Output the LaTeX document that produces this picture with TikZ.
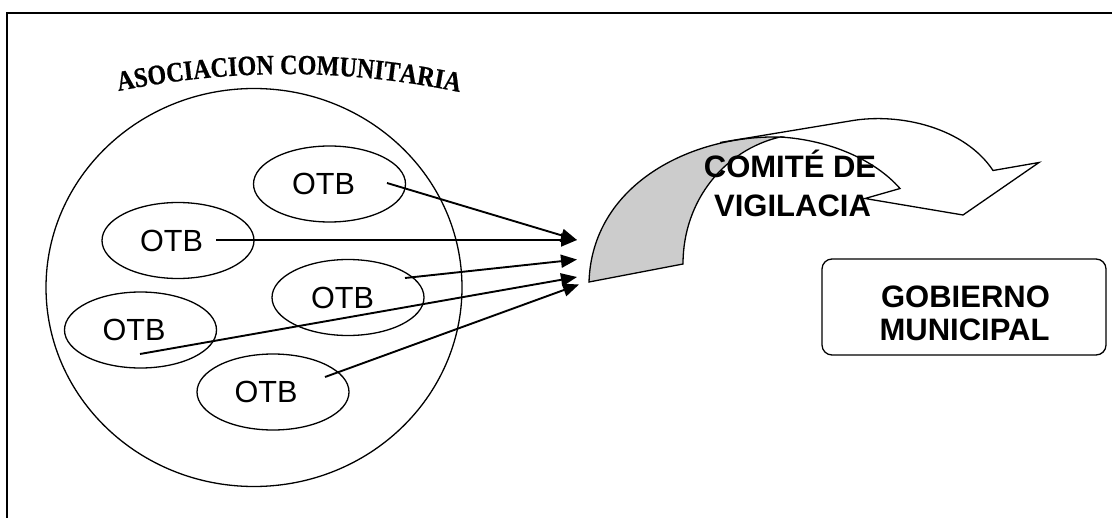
\documentclass[tikz,border=0pt]{standalone}
\usepackage{fontspec}
\setmainfont{Liberation Sans}
\newfontfamily\titlefam{Liberation Serif}[UprightFont={* Bold}, FakeStretch=0.86, FakeBold=0.6]
\newcommand\titlefont{\titlefam\fontsize{14}{16}\selectfont}
\usetikzlibrary{shapes.geometric,arrows.meta,decorations.text}
\tikzset{
  otb/.style={draw, ellipse, line width=0.65pt, minimum width=76pt, minimum height=38pt, inner sep=0pt},
  otbtext/.style={font=\fontsize{15.3}{18}\selectfont, inner sep=0pt},
  bigtext/.style={font=\bfseries\fontsize{15.5}{18}\selectfont, inner sep=0pt, anchor=base},
  conn/.style={line width=0.95pt, -{Triangle[length=8pt,width=6.5pt]}},
}
\begin{document}
\begin{tikzpicture}[x=0.5pt,y=-0.5pt]
\useasboundingbox (0,0) rectangle (1112,518);
% frame
\draw[line width=1pt] (7,522) -- (7,13) -- (1116,13);
% title
\path[decorate, decoration={text along path, text={|\titlefont|ASOCIACION COMUNITARIA}, text align=center}]
  (114,92) .. controls (230,68) and (346,68) .. (464,93);
% association circle
\node[draw, ellipse, line width=0.65pt, minimum width=208pt, minimum height=199pt, inner sep=0pt] (asoc) at (254,287.5) {};
% OTBs
\node[otb] (o1) at (329.5,184) {};
\node[otb] (o2) at (178,240.5) {};
\node[otb] (o3) at (348,297.5) {};
\node[otb] (o4) at (140.5,330) {};
\node[otb] (o5) at (273,392) {};
\node[otbtext] (t1) at ([xshift=-3pt]o1.center) {OTB};
\node[otbtext] (t2) at ([xshift=-3.25pt]o2.center) {OTB};
\node[otbtext] (t3) at ([xshift=-2.75pt]o3.center) {OTB};
\node[otbtext] (t4) at ([xshift=-3.25pt]o4.center) {OTB};
\node[otbtext] (t5) at ([xshift=-3.5pt]o5.center) {OTB};
% arrow ends
\coordinate (s1) at (387,183);
\coordinate (s2) at (216,240);
\coordinate (s3) at (405,278);
\coordinate (s4) at (140,354);
\coordinate (s5) at (325,377);
\coordinate (e1) at (577,240);
\coordinate (e3) at (577,259.5);
\coordinate (e4) at (577,277);
\coordinate (e5) at (579,284.5);
\draw[conn] (s1) -- (e1);
\draw[conn] (s2) -- (e1);
\draw[conn] (s3) -- (e3);
\draw[conn] (s4) -- (e4);
\draw[conn] (s5) -- (e5);
% curved arrow (comite)
\filldraw[fill=gray!40, line width=0.65pt] (589,282) -- (683,264)
  .. controls (683,200) and (725,150) .. (780,137)
  .. controls (690,135) and (592,185) .. (589,282) -- cycle;
\draw[line width=0.65pt, line join=miter] (720,142.5) -- (850,121)
  .. controls (900,112) and (965,128) .. (993,170.5)
  -- (1039,162.5) -- (963,215) -- (865,198.5) -- (900,188.5)
  .. controls (875,160) and (830,140) .. (780,137);
\node[bigtext] (c1) at (790,178) {COMITÉ DE};
\node[bigtext] (c2) at (792.5,217) {VIGILACIA};
% gobierno municipal
\node[draw, line width=0.65pt, rounded corners=5pt, minimum width=142pt, minimum height=48pt, inner sep=0pt] (gob) at (964,307) {};
\node[bigtext] (g1) at (965.5,307) {GOBIERNO};
\node[bigtext] (g2) at (964.5,340) {MUNICIPAL};
\end{tikzpicture}
\end{document}
